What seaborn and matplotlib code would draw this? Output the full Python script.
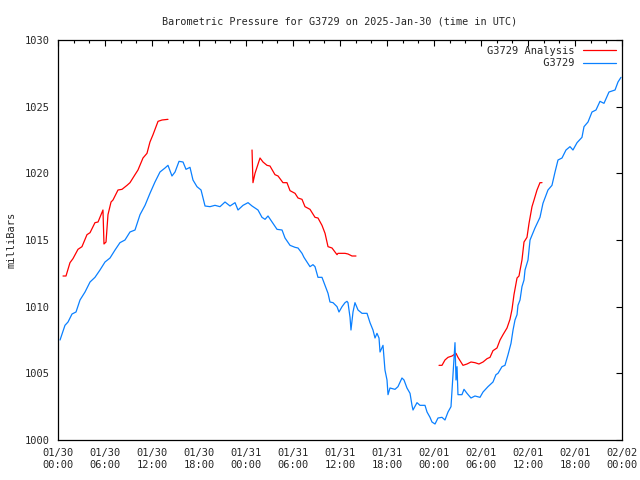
import pandas as pd
import seaborn as sns
import matplotlib.pyplot as plt
import matplotlib.dates as mdates

# G3729 station pressure: hours after 2025-01-30 00:00 UTC, millibars
obs_hours = [0.26, 0.89, 1.28, 1.79, 2.30, 2.81, 3.45, 4.09, 4.72, 5.36, 6.00, 6.64, 7.28, 7.91,
             8.55, 9.19, 9.83, 10.47, 11.11, 11.74, 12.38, 13.02, 13.66, 14.04, 14.55, 14.94,
             15.45, 15.96, 16.34, 16.85, 17.23, 17.74, 18.26, 18.77, 19.40, 20.04, 20.68, 21.32,
             21.96, 22.60, 22.98, 23.62, 24.26, 24.77, 25.53, 26.04, 26.43, 26.81, 27.45, 27.96,
             28.60, 28.98, 29.62, 30.26, 30.64, 31.15, 31.40, 31.79, 32.17, 32.55, 32.81, 33.19,
             33.70, 33.96, 34.47, 34.72, 35.11, 35.62, 35.87, 36.26, 36.64, 36.89, 37.02, 37.28,
             37.40, 37.66, 37.91, 38.30, 38.81, 39.45, 39.83, 40.21, 40.47, 40.72, 40.98, 41.11,
             41.49, 41.74, 42.00, 42.13, 42.38, 43.02, 43.40, 43.91, 44.17, 44.55, 44.94, 45.19,
             45.32, 45.83, 46.21, 46.85, 47.11, 47.49, 47.74, 48.13, 48.51, 49.02, 49.40, 49.79,
             50.17, 50.43, 50.68, 50.81, 50.94, 51.06, 51.57, 51.83, 52.21, 52.72, 53.23, 53.87,
             54.26, 54.89, 55.53, 55.91, 56.17, 56.68, 57.06, 57.45, 57.83, 58.09, 58.34, 58.60,
             58.72, 58.98, 59.23, 59.49, 59.62, 60.00, 60.26, 60.89, 61.53, 61.91, 62.55, 63.06,
             63.45, 63.83, 64.34, 64.85, 65.36, 65.74, 66.26, 66.89, 67.15, 67.66, 68.17, 68.68,
             69.19, 69.70, 70.34, 71.11, 71.49, 71.87]
obs_mb = [1007.5, 1008.6, 1008.85, 1009.45, 1009.6, 1010.5, 1011.1, 1011.85, 1012.2, 1012.75,
          1013.35, 1013.65, 1014.25, 1014.8, 1015.0, 1015.6, 1015.75, 1016.9, 1017.6, 1018.5,
          1019.35, 1020.1, 1020.4, 1020.6, 1019.8, 1020.1, 1020.9, 1020.85, 1020.3, 1020.45,
          1019.5, 1019.0, 1018.75, 1017.55, 1017.5, 1017.6, 1017.5, 1017.85, 1017.55, 1017.8,
          1017.25, 1017.6, 1017.8, 1017.55, 1017.25, 1016.7, 1016.55, 1016.8, 1016.25, 1015.8,
          1015.75, 1015.15, 1014.6, 1014.45, 1014.4, 1014.0, 1013.7, 1013.35, 1013.0, 1013.15,
          1013.0, 1012.2, 1012.2, 1011.8, 1011.0, 1010.35, 1010.3, 1010.0, 1009.6, 1010.0,
          1010.3, 1010.4, 1010.3, 1009.2, 1008.25, 1009.6, 1010.3, 1009.75, 1009.5, 1009.5,
          1008.8, 1008.25, 1007.65, 1008.0, 1007.65, 1006.6, 1007.1, 1005.25, 1004.5, 1003.4,
          1003.9, 1003.8, 1004.0, 1004.65, 1004.5, 1003.9, 1003.5, 1002.6, 1002.25, 1002.8,
          1002.6, 1002.6, 1002.1, 1001.7, 1001.35, 1001.2, 1001.65, 1001.7, 1001.5, 1002.1,
          1002.5, 1004.9, 1007.3, 1004.5, 1005.5, 1003.4, 1003.4, 1003.8, 1003.5, 1003.15,
          1003.3, 1003.2, 1003.6, 1004.0, 1004.35, 1004.9, 1005.0, 1005.5, 1005.6, 1006.4,
          1007.25, 1008.25, 1009.0, 1009.4, 1010.1, 1010.5, 1011.5, 1012.0, 1012.75, 1013.5,
          1015.0, 1015.9, 1016.7, 1017.75, 1018.75, 1019.1, 1020.1, 1021.0, 1021.15, 1021.75,
          1022.0, 1021.75, 1022.3, 1022.7, 1023.5, 1023.85, 1024.6, 1024.75, 1025.4, 1025.25,
          1026.1, 1026.25, 1026.85, 1027.2]

# analysis: three separate runs
ana_hours = [0.64, 1.02, 1.53, 1.91, 2.55, 3.06, 3.70, 4.09, 4.72, 5.11, 5.74, 5.87, 6.13, 6.38,
             6.77, 7.02, 7.66, 8.17, 8.81, 9.19, 9.83, 10.21, 10.85, 11.36, 11.74, 12.13, 12.77,
             13.28, 14.04,
             24.77, 24.89, 25.15, 25.79, 26.17, 26.68, 27.06, 27.70, 28.09, 28.72, 29.23, 29.62,
             30.26, 30.64, 31.15, 31.53, 32.17, 32.81, 33.19, 33.70, 34.09, 34.47, 34.98, 35.36,
             35.62, 35.74, 36.64, 37.02, 37.53, 38.04,
             48.64, 49.02, 49.40, 49.79, 50.30, 50.81, 51.06, 51.70, 52.21, 52.72, 53.23, 53.74,
             54.26, 54.77, 55.15, 55.53, 56.04, 56.43, 56.81, 57.32, 57.70, 57.96, 58.21, 58.60,
             58.85, 59.23, 59.49, 59.87, 60.13, 60.51, 60.77, 61.15, 61.53, 61.79]
ana_mb = [1012.3, 1012.3, 1013.3, 1013.6, 1014.3, 1014.5, 1015.4, 1015.55, 1016.3, 1016.35,
          1017.25, 1014.7, 1014.85, 1016.9, 1017.85, 1018.0, 1018.75, 1018.8, 1019.1, 1019.3,
          1019.9, 1020.25, 1021.15, 1021.5, 1022.35, 1022.9, 1023.9, 1024.0, 1024.05,
          1021.75, 1019.3, 1020.0, 1021.15, 1020.85, 1020.6, 1020.55, 1019.9, 1019.8, 1019.3,
          1019.3, 1018.7, 1018.5, 1018.15, 1018.05, 1017.5, 1017.3, 1016.7, 1016.65, 1016.1,
          1015.5, 1014.5, 1014.4, 1014.1, 1013.9, 1014.0, 1014.0, 1013.95, 1013.8, 1013.8,
          1005.6, 1005.6, 1006.0, 1006.2, 1006.3, 1006.5, 1006.2, 1005.6, 1005.7, 1005.85,
          1005.8, 1005.7, 1005.85, 1006.1, 1006.2, 1006.7, 1006.9, 1007.5, 1007.9, 1008.4,
          1009.05, 1009.8, 1010.9, 1012.15, 1012.3, 1013.5, 1014.85, 1015.2, 1016.25, 1017.5,
          1018.0, 1018.75, 1019.3, 1019.3]
ana_run = [1] * 29 + [2] * 30 + [3] * 34

start = pd.Timestamp('2025-01-30 00:00')
ana = pd.DataFrame({'time': start + pd.to_timedelta(ana_hours, unit='h'), 'mb': ana_mb,
                    'run': ana_run, 'series': 'G3729 Analysis'})
obs = pd.DataFrame({'time': start + pd.to_timedelta(obs_hours, unit='h'), 'mb': obs_mb,
                    'run': 0, 'series': 'G3729'})
df = pd.concat([ana, obs], ignore_index=True)

sns.set_style('white')
plt.rcParams['font.family'] = ['DejaVu Sans Mono']
plt.rcParams['font.size'] = 7.5

fig = plt.figure(figsize=(6.4, 4.8), dpi=100)
ax = fig.add_axes([58 / 640, 40 / 480, 564 / 640, 400 / 480])

sns.lineplot(data=df, x='time', y='mb', hue='series', units='run', estimator=None,
             hue_order=['G3729 Analysis', 'G3729'],
             palette={'G3729 Analysis': '#ff0000', 'G3729': '#0a80ff'},
             linewidth=0.9, ax=ax)

ax.set_xlim(start, start + pd.Timedelta(hours=72))
ax.set_ylim(1000, 1030)
ax.set_yticks(range(1000, 1031, 5))
ax.xaxis.set_major_locator(mdates.HourLocator(byhour=[0, 6, 12, 18]))
ax.xaxis.set_minor_locator(mdates.HourLocator(interval=2))
ax.xaxis.set_major_formatter(mdates.DateFormatter('%m/%d\n%H:%M'))
ax.tick_params(which='both', direction='in', top=True, right=True, color='black',
               labelsize=7.5, pad=6)
ax.tick_params(which='major', length=4.5, width=0.8)
ax.tick_params(which='minor', length=2.2, width=0.8)
for sp in ax.spines.values():
    sp.set_color('black')
    sp.set_linewidth(0.9)

ax.set_xlabel('')
ax.set_ylabel('milliBars', fontsize=7.5, labelpad=6)
ax.set_title('Barometric Pressure for G3729 on 2025-Jan-30 (time in UTC)', fontsize=7.3, pad=11)

h, l = ax.get_legend_handles_labels()
labels = [s.rjust(14) for s in l]
leg = ax.legend(h, labels, loc='upper right', frameon=False, markerfirst=False,
                fontsize=7.5, handlelength=3.2, handletextpad=0.8, labelspacing=0.25,
                borderaxespad=0.15)

fig.savefig('out.png', dpi=100)
